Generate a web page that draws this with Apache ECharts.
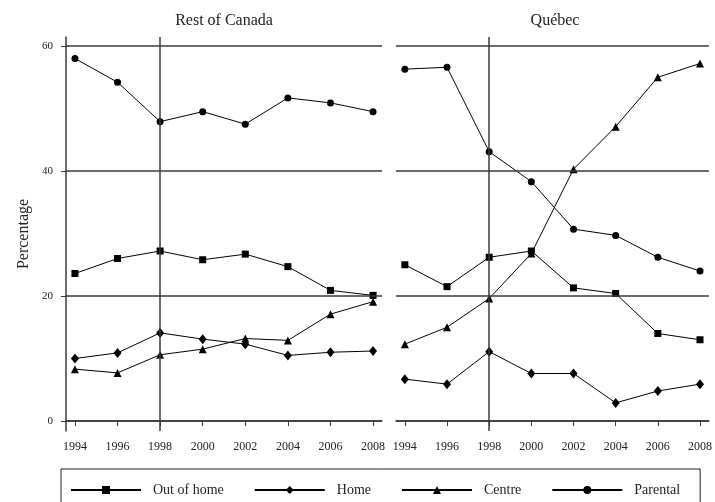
<!DOCTYPE html>
<html>
<head>
<meta charset="utf-8">
<script src="https://cdn.jsdelivr.net/npm/echarts@6/dist/echarts.min.js"></script>
<style>
  html, body { margin: 0; padding: 0; background: #fff; }
  #myChart { width: 715px; height: 502px; }
</style>
</head>
<body>
<div id="myChart"></div>
<script>
  // survey years
  var years = [1994, 1996, 1998, 2000, 2002, 2004, 2006, 2008];
  var yTicks = [0, 20, 40, 60];

  // Rest of Canada (%)
  var rocOutOfHome = [23.6, 26.0, 27.2, 25.8, 26.7, 24.7, 20.9, 20.1];
  var rocHome      = [10.0, 10.9, 14.1, 13.1, 12.3, 10.5, 11.0, 11.2];
  var rocCentre    = [8.3, 7.7, 10.6, 11.5, 13.2, 12.9, 17.1, 19.1];
  var rocParental  = [58.0, 54.2, 47.9, 49.5, 47.5, 51.7, 50.9, 49.5];

  // Quebec (%)
  var qcOutOfHome = [25.0, 21.5, 26.2, 27.2, 21.3, 20.4, 14.0, 13.0];
  var qcHome      = [6.7, 5.9, 11.1, 7.6, 7.6, 2.9, 4.8, 5.9];
  var qcCentre    = [12.3, 15.0, 19.6, 26.8, 40.3, 47.1, 55.0, 57.2];
  var qcParental  = [56.3, 56.6, 43.1, 38.3, 30.7, 29.7, 26.2, 24.0];

  var myChart = echarts.init(document.getElementById('myChart'));
  var serif = 'Liberation Serif';
  var frame = '#3a3a3a';

  function pairs(vals) {
    return years.map(function (y, i) { return [y, vals[i]]; });
  }

  function line(name, vals, symbol, size, idx, withRefs) {
    var s = {
      name: name,
      type: 'line',
      xAxisIndex: idx,
      yAxisIndex: idx,
      data: pairs(vals),
      symbol: symbol,
      symbolSize: size,
      lineStyle: { color: '#000', width: 1 },
      itemStyle: { color: '#000' },
      animation: false
    };
    if (withRefs) {
      // horizontal rules at the y ticks + the 1998 marker line
      s.markLine = {
        silent: true,
        symbol: 'none',
        label: { show: false },
        lineStyle: { color: frame, width: 1.5, type: 'solid' },
        data: yTicks.map(function (v) { return { yAxis: v }; }).concat([{ xAxis: 1998 }])
      };
    }
    return s;
  }

  function xAx(idx) {
    return {
      type: 'value',
      gridIndex: idx,
      min: 1993.58,
      max: 2008.42,
      axisLine: { show: true, lineStyle: { color: frame, width: 1.5 } },
      axisTick: { show: true, length: 5, customValues: years, lineStyle: { color: frame } },
      axisLabel: {
        customValues: years, margin: 10, fontFamily: serif, fontSize: 12, color: '#222',
        formatter: function (v) { return String(v); }
      },
      splitLine: { show: false }
    };
  }

  function yAx(idx) {
    var left = idx === 0;
    return {
      type: 'value',
      gridIndex: idx,
      min: -1.6,
      max: 61.44,
      name: left ? 'Percentage' : '',
      nameLocation: 'middle',
      nameGap: 34,
      nameTextStyle: { fontFamily: serif, fontSize: 16, color: '#222' },
      axisLine: { show: left, lineStyle: { color: frame, width: 1.5 } },
      axisTick: { show: left, length: 5, customValues: yTicks, lineStyle: { color: frame } },
      axisLabel: { show: left, customValues: yTicks, margin: 13, fontFamily: serif, fontSize: 11, color: '#222' },
      splitLine: { show: false }
    };
  }

  myChart.setOption({
    animation: false,
    title: [
      { text: 'Rest of Canada', left: 224, top: 13, textAlign: 'center', padding: 0,
        textStyle: { fontFamily: serif, fontSize: 16, fontWeight: 'normal', color: '#222' } },
      { text: 'Québec', left: 555, top: 13, textAlign: 'center', padding: 0,
        textStyle: { fontFamily: serif, fontSize: 16, fontWeight: 'normal', color: '#222' } }
    ],
    grid: [
      { left: 66, top: 37, width: 316, height: 394 },
      { left: 396, top: 37, width: 317, height: 394 }
    ],
    xAxis: [xAx(0), xAx(1)],
    yAxis: [yAx(0), yAx(1)],
    legend: {
      left: 61,
      top: 469,
      width: 632,
      padding: [14, 20, 30, 9],
      borderColor: '#222',
      borderWidth: 1,
      itemWidth: 70,
      itemHeight: 10,
      itemGap: 30,
      textStyle: { fontFamily: serif, fontSize: 14, color: '#222', padding: [2, 0, 0, 7] },
      data: ['Out of home', 'Home', 'Centre', 'Parental']
    },
    series: [
      line('Out of home', rocOutOfHome, 'rect', 7, 0, true),
      line('Home', rocHome, 'diamond', [8, 10], 0, false),
      line('Centre', rocCentre, 'triangle', 8, 0, false),
      line('Parental', rocParental, 'circle', 7, 0, false),
      line('Out of home', qcOutOfHome, 'rect', 7, 1, true),
      line('Home', qcHome, 'diamond', [8, 10], 1, false),
      line('Centre', qcCentre, 'triangle', 8, 1, false),
      line('Parental', qcParental, 'circle', 7, 1, false)
    ]
  });
</script>
</body>
</html>
